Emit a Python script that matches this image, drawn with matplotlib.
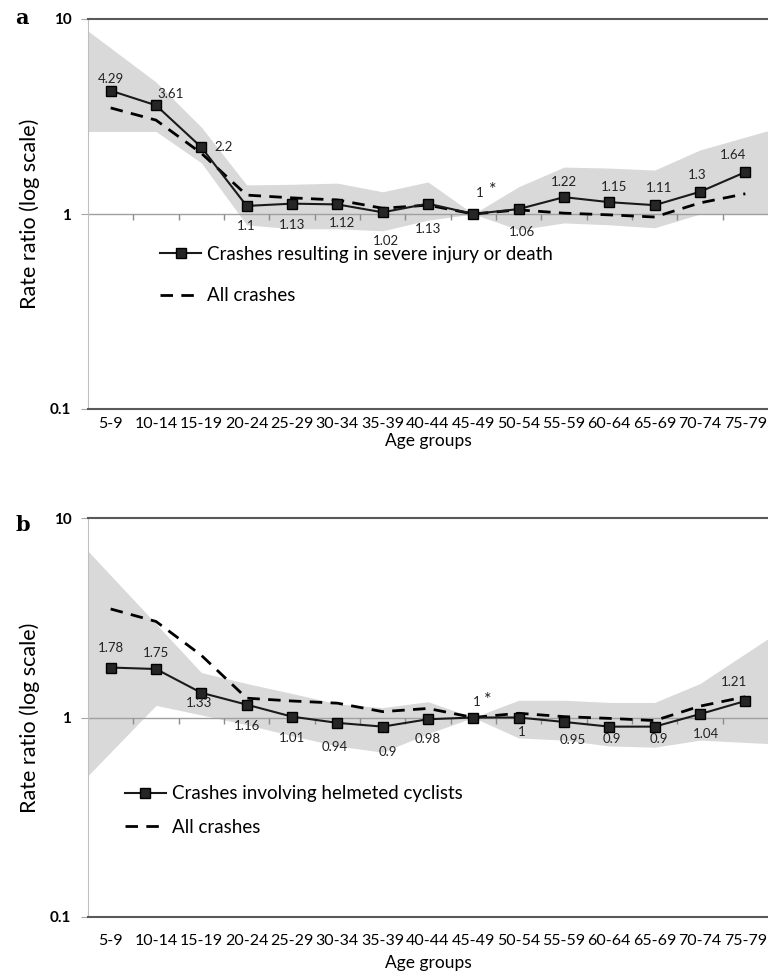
import matplotlib
matplotlib.use("Agg")
import matplotlib.pyplot as plt
import numpy as np

plt.rcParams["font.family"] = ["Lato", "DejaVu Sans"]

# data
age_groups = ["5-9", "10-14", "15-19", "20-24", "25-29", "30-34", "35-39", "40-44",
              "45-49", "50-54", "55-59", "60-64", "65-69", "70-74", "75-79"]
all_crashes = [3.5, 3.03, 2.05, 1.25, 1.21, 1.18, 1.07, 1.11, 1.0, 1.05, 1.01, 0.99, 0.965, 1.14, 1.27]

severe = [4.29, 3.61, 2.2, 1.1, 1.13, 1.12, 1.02, 1.13, 1, 1.06, 1.22, 1.15, 1.11, 1.3, 1.64]
severe_hi = [7.1, 4.75, 2.79, 1.41, 1.42, 1.44, 1.30, 1.46, 1.0, 1.38, 1.74, 1.72, 1.68, 2.13, 2.48]
severe_lo = [2.65, 2.65, 1.83, 0.88, 0.84, 0.84, 0.82, 0.93, 1.0, 0.83, 0.9, 0.88, 0.85, 1.0, 1.0]

helmet = [1.78, 1.75, 1.33, 1.16, 1.01, 0.94, 0.9, 0.98, 1, 1, 0.95, 0.9, 0.9, 1.04, 1.21]
helmet_hi = [5.16, 2.95, 1.68, 1.48, 1.32, 1.17, 1.12, 1.2, 1.0, 1.22, 1.22, 1.19, 1.19, 1.48, 2.09]
helmet_lo = [0.67, 1.15, 1.03, 0.92, 0.81, 0.72, 0.67, 0.83, 1.0, 0.79, 0.77, 0.72, 0.71, 0.77, 0.75]

ref_idx = 8  # reference group 45-49

# label offsets in pixels (dx, dy); the reference group gets "1" plus a star
off_a = [(0, 12), (15, 11), (22, 0), (0, -20), (0, -21), (5, -19), (3, -29), (0, -25),
         (6, 21), (3, -23), (0, 15), (5, 15), (4, 17), (-3, 17), (-12, 17)]
off_b = [(0, 20), (0, 16), (-2, -10), (0, -21), (0, -21), (-3, -24), (5, -25), (0, -20),
         (3, 15), (3, -15), (9, -18), (3, -12), (4, -12), (6, -20), (-11, 19)]
star_a = (19, 24)
star_b = (14, 17)

x = np.arange(len(age_groups))
px = 72 / 100.0


def band_edges(vals):
    # extend the band to the plot edges along the first / last segment
    lv = np.log10(vals)
    left = lv[0] + 0.5 * (lv[0] - lv[1])
    right = lv[-1] + 0.5 * (lv[-1] - lv[-2])
    return np.concatenate([[-0.5], x, [len(x) - 0.5]]), 10 ** np.concatenate([[left], lv, [right]])


def panel(ax, y, lo, hi, offs, star, label, leg_anchor, leg_space, tpad, lpad, h):
    bx, bl = band_edges(lo)
    _, bh = band_edges(hi)
    ax.fill_between(bx, bl, bh, color="#d9d9d9", lw=0, zorder=1)
    ax.set_yscale("log")
    ax.set_ylim(0.1, 10)
    ax.set_xlim(-0.5, len(x) - 0.5)
    ax.axhline(1, color="#a0a0a0", lw=1, zorder=2)
    # category boundary ticks hanging from the line at 1
    ax.vlines(x[:-1] + 0.5, 0.5 - 6 / h, 0.5, transform=ax.get_xaxis_transform(),
              color="#8c8c8c", lw=1, zorder=2)

    ln1, = ax.plot(x, y, color="#1a1a1a", lw=1.5, marker="s", ms=7,
                   mfc="#262626", mec="#000000", zorder=4)
    ln2, = ax.plot(x, all_crashes, color="#000000", lw=2, ls=(0, (4.5, 3)), zorder=3)

    for i, v in enumerate(y):
        ax.annotate(f"{v:g}", (x[i], v), xytext=(offs[i][0] * px, offs[i][1] * px),
                    textcoords="offset points", ha="center", va="center",
                    fontsize=9.5, color="#222222", zorder=5)
    ax.annotate("*", (x[ref_idx], y[ref_idx]), xytext=(star[0] * px, star[1] * px),
                textcoords="offset points", ha="center", va="center",
                fontsize=13, color="#222222", zorder=5)

    ax.set_xticks(x, age_groups)
    ax.tick_params(axis="x", length=0, labelsize=11.5, pad=tpad)
    ax.set_yticks([0.1, 1, 10], ["0.1", "1", "10"])
    ax.minorticks_off()
    ax.tick_params(axis="y", length=5, color="#a6a6a6", labelsize=11, pad=7)
    for t in ax.get_yticklabels():
        t.set_fontweight("bold")
    ax.set_ylabel("Rate ratio (log scale)", fontsize=15.5, labelpad=7)
    ax.set_xlabel("Age groups", fontsize=12.5, labelpad=lpad)
    ax.spines["right"].set_visible(False)
    ax.spines["top"].set_color("#595959")
    ax.spines["top"].set_linewidth(1.5)
    ax.spines["bottom"].set_color("#595959")
    ax.spines["bottom"].set_linewidth(1.5)
    ax.spines["left"].set_color("#bfbfbf")
    ax.legend([ln1, ln2], [label, "All crashes"], loc="upper left", bbox_to_anchor=leg_anchor,
              frameon=False, fontsize=13.5, handlelength=2.2, handletextpad=0.3,
              labelspacing=leg_space, borderpad=0, borderaxespad=0)


fig = plt.figure(figsize=(7.68, 9.76), dpi=100)
ax1 = fig.add_axes([88 / 768, 1 - 409 / 976, 680 / 768, 390 / 976])
ax2 = fig.add_axes([88 / 768, 1 - 917 / 976, 680 / 768, 399 / 976])

panel(ax1, severe, severe_lo, severe_hi, off_a, star_a,
      "Crashes resulting in severe injury or death", (0.106, 0.418), 1.29, 6, 1, 390)
panel(ax2, helmet, helmet_lo, helmet_hi, off_b, star_b,
      "Crashes involving helmeted cyclists", (0.054, 0.33), 0.87, 12, 5, 399)

fig.text(15 / 768, 1 - 18 / 976, "a", fontsize=15, fontweight="bold",
         family="DejaVu Serif", va="center")
fig.text(15 / 768, 1 - 525 / 976, "b", fontsize=15, fontweight="bold",
         family="DejaVu Serif", va="center")

fig.savefig("out.png", dpi=100)
